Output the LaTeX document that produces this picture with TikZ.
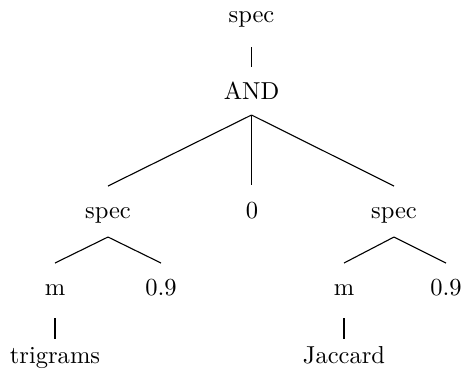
\documentclass[tikz,border=0pt]{standalone}
\begin{document}
\begin{tikzpicture}[x=0.408pt,y=-0.408pt,
  lbl/.style={anchor=base,inner sep=0pt,font=\fontsize{10pt}{12pt}\selectfont},
  edge/.style={line width=0.45pt}]
\useasboundingbox (0,0) rectangle (462,379);
% nodes
\node[lbl] (top) at (251.5,22.7) {spec};
\node[lbl] (and) at (251.5,99) {AND};
\node[lbl] (sl) at (108,218) {spec};
\node[lbl] (zero) at (252,218) {0};
\node[lbl] (sr) at (394,218) {spec};
\node[lbl] (m1) at (55,295) {m};
\node[lbl] (n1) at (161,295) {0.9};
\node[lbl] (m2) at (344,295) {m};
\node[lbl] (n2) at (446,295) {0.9};
\node[lbl] (tri) at (55,363) {trigrams};
\node[lbl] (jac) at (344,363) {Jaccard};
% connector end points
\coordinate (top-b) at (251.5,47);
\coordinate (and-t) at (251.5,67);
\coordinate (and-b) at (251.5,115);
\coordinate (sl-t) at (108,186);
\coordinate (zero-t) at (251.5,185);
\coordinate (sr-t) at (394,186);
\coordinate (sl-b) at (108,237);
\coordinate (sr-b) at (394,237);
\coordinate (m1-t) at (55,263);
\coordinate (n1-t) at (161,263);
\coordinate (m2-t) at (344,263);
\coordinate (n2-t) at (446,263);
\coordinate (m1-b) at (55,318);
\coordinate (m2-b) at (344,318);
\coordinate (tri-t) at (55,339);
\coordinate (jac-t) at (344,339);
% connectors
\draw[edge] (top-b) -- (and-t);
\draw[edge] (and-b) -- (sl-t);
\draw[edge] (and-b) -- (zero-t);
\draw[edge] (and-b) -- (sr-t);
\draw[edge] (sl-b) -- (m1-t);
\draw[edge] (sl-b) -- (n1-t);
\draw[edge] (sr-b) -- (m2-t);
\draw[edge] (sr-b) -- (n2-t);
\draw[edge] (m1-b) -- (tri-t);
\draw[edge] (m2-b) -- (jac-t);
\end{tikzpicture}
\end{document}
